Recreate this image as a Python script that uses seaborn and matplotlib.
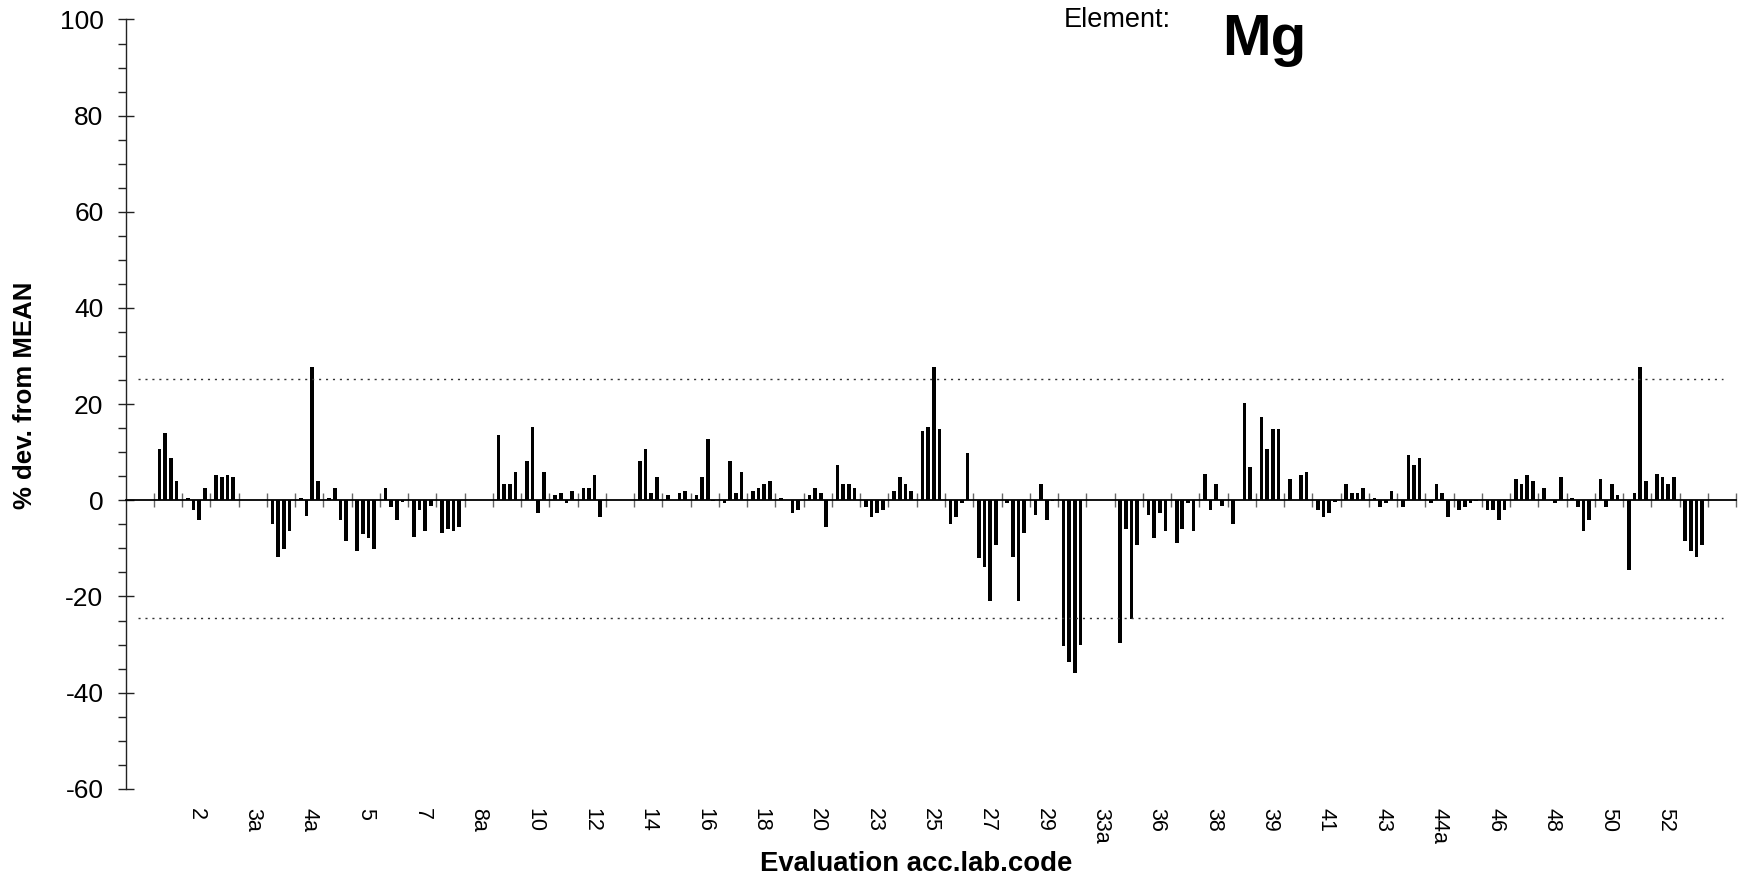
import matplotlib
matplotlib.use("Agg")
import matplotlib.pyplot as plt
import seaborn as sns
import pandas as pd
import numpy as np
from matplotlib.ticker import MultipleLocator, FixedLocator, NullLocator

nan = np.nan

# ---- data -------------------------------------------------------------
lab_codes = ["", "1", "2", "3", "3a", "4", "4a", "4b", "5", "6", "7", "8", "8a", "9",
             "10", "11", "12", "13", "14", "15", "16", "17", "18", "19", "20", "22",
             "23", "24", "25", "26", "27", "28", "29", "33", "33a", "35", "36", "37",
             "38", "38a", "39", "40", "41", "42", "43", "44", "44a", "45", "46", "47",
             "48", "49", "50", "51", "52", "53", ""]

rep1 = [nan, 10.7, 0.5, 5.3, nan, -5.0, 0.5, 0.5, -10.5, 2.6, -7.6, -6.7, nan, 13.5,
        8.2, 1.1, 2.6, nan, 8.2, 1.1, 1.1, -0.5, 1.9, 0.5, 1.1, 7.4, -1.3, 1.9, 14.4,
        -5.0, -12.1, -0.5, -3.0, -30.4, nan, -29.7, -3.0, -8.8, 5.5, -5.0, 17.3, 4.4,
        -2.1, 3.4, 0.5, -1.3, -0.5, -2.1, -2.1, 4.4, 2.6, 0.5, 4.4, -14.4, 5.5, -8.5, nan]
rep2 = [nan, 14.0, -2.1, 4.9, nan, -11.8, -3.3, 2.6, -7.1, -1.3, -2.1, -5.9, nan, 3.4,
        15.3, 1.5, 2.6, nan, 10.7, nan, 4.9, 8.2, 2.6, nan, 2.6, 3.4, -3.4, 4.9, 15.3,
        -3.4, -13.9, -11.8, 3.4, -33.7, nan, -5.9, -7.9, -5.9, -2.1, nan, 10.7, nan,
        -3.4, 1.5, -1.3, 9.4, 3.4, -1.3, -2.1, 3.4, nan, -1.3, -1.3, 1.5, 4.9, -10.5, nan]
rep3 = [nan, 8.9, -4.2, 5.2, nan, -10.1, 27.8, -4.2, -7.9, -4.2, -6.3, -6.3, nan, 3.4,
        -2.6, -0.5, 5.3, nan, 1.5, 1.5, 12.8, 1.5, 3.4, -2.6, 1.5, 3.4, -2.6, 3.4, 27.8,
        -0.5, -20.9, -20.9, -4.2, -36.0, nan, -24.7, -2.6, -0.5, 3.4, 20.2, 14.8, 5.3,
        -2.6, 1.5, -0.5, 7.4, 1.5, -0.5, -4.2, 5.3, -0.5, -6.3, 3.4, 27.8, 3.4, -11.8, nan]
rep4 = [nan, 4.0, 2.6, 4.9, nan, -6.3, 4.0, -8.4, -10.1, -0.3, -1.1, -5.5, nan, 5.9,
        5.9, 1.9, -3.4, nan, 4.9, 1.9, -0.2, 5.9, 4.0, -2.0, -5.5, 2.6, -2.0, 1.9, 14.8,
        9.8, -9.2, -6.9, -0.2, -30.0, nan, -9.2, -6.3, -6.3, -1.1, 6.9, 14.8, 5.9,
        -0.3, 2.6, 1.9, 8.8, -3.4, -0.2, -2.0, 4.0, 4.9, -4.1, 1.1, 4.0, 4.9, -9.2, nan]

upper_limit = 25.2
lower_limit = -24.5
element = "Mg"

# ---- long-form table --------------------------------------------------
slots = list(range(len(lab_codes)))
reps = {"r1": rep1, "r2": rep2, "r3": rep3, "r4": rep4}
df = pd.concat([pd.DataFrame({"slot": slots, "value": v, "rep": k}) for k, v in reps.items()],
               ignore_index=True)

# ---- figure -----------------------------------------------------------
sns.set_style("white")
plt.rcParams["font.family"] = ["Liberation Sans", "DejaVu Sans"]
plt.rcParams["axes.unicode_minus"] = False
for key in ("text.color", "axes.labelcolor", "xtick.color", "ytick.color"):
    plt.rcParams[key] = "black"

fig = plt.figure(figsize=(17.38, 8.85), dpi=100)
ax = fig.add_axes([0.0723, 0.1087, 0.9266, 0.8693])

sns.barplot(data=df, x="slot", y="value", hue="rep", order=slots,
            hue_order=list(reps.keys()), palette=["black"] * 4, dodge=True,
            gap=0.35, errorbar=None, linewidth=0, legend=False, ax=ax)

ax.set_xlim(-0.5, len(slots) - 0.5)
ax.set_ylim(-60, 100)

# limit lines
ax.hlines([upper_limit, lower_limit], -0.05, len(slots) - 0.95,
          colors="#333333", linestyles=(0, (1.5, 3.5)), linewidth=1.0, zorder=1)

# spines
for s in ("top", "right"):
    ax.spines[s].set_visible(False)
ax.spines["bottom"].set_position(("data", 0))
ax.spines["bottom"].set_color("black")
ax.spines["bottom"].set_linewidth(1.3)
ax.spines["left"].set_color("#222222")
ax.spines["left"].set_linewidth(1.0)

# y ticks
ax.yaxis.set_major_locator(MultipleLocator(20))
ax.yaxis.set_minor_locator(MultipleLocator(5))
ax.tick_params(axis="y", which="major", left=True, direction="inout", length=12, width=1,
               labelsize=19, pad=10, color="#222222", labelcolor="black")
ax.tick_params(axis="y", which="minor", left=True, direction="out", length=6, width=1,
               color="#222222")

# x boundary ticks on zero line
ax.xaxis.set_major_locator(FixedLocator(np.arange(0.5, len(slots), 1.0)))
ax.xaxis.set_minor_locator(NullLocator())
ax.tick_params(axis="x", which="major", bottom=True, direction="inout", length=10, width=1,
               color="#666666", labelbottom=False)
ax.set_xlabel("")

# category labels at the bottom
shown = list(range(2, len(slots) - 1, 2))
sec = ax.secondary_xaxis("bottom")
sec.set_xticks(shown, labels=[lab_codes[i] for i in shown])
sec.tick_params(length=0, pad=14, labelsize=15.5, labelrotation=-90, labelcolor="black")
sec.spines["bottom"].set_visible(False)

ax.set_xlabel("Evaluation acc.lab.code", fontsize=19.8, fontweight="bold", color="black")
ax.xaxis.set_label_coords(0.491, -0.098)
ax.xaxis.label.set_va("center")
ax.set_ylabel("% dev. from MEAN", fontsize=18.5, fontweight="bold", color="black")
ax.yaxis.set_label_coords(-0.0625, 0.512)
ax.yaxis.label.set_va("center")

fig.text(0.6122, 0.970, "Element:", fontsize=19.5, ha="left", va="baseline", color="black")
fig.text(0.7030, 0.9379, element, fontsize=42, fontweight="bold", ha="left",
         va="baseline", color="black")

fig.savefig("out.png", dpi=100)
